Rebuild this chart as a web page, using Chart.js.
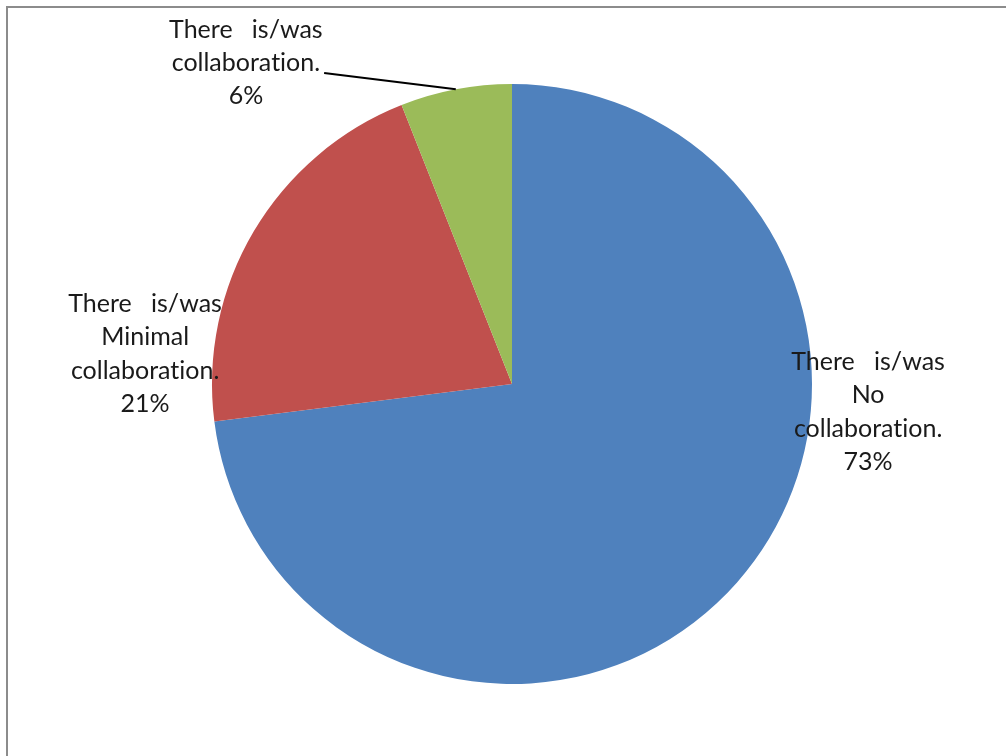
<!DOCTYPE html>
<html>
<head>
<meta charset="utf-8">
<script src="https://cdn.jsdelivr.net/npm/chart.js@4"></script>
<style>
  html, body { margin: 0; padding: 0; background: #fff; overflow: hidden; }
  #marco { position: absolute; left: 6px; top: 6px; width: 1100px; height: 900px;
           border-left: 2px solid #8c8c8c; border-top: 2px solid #8c8c8c; }
  #wrap { position: absolute; left: 0; top: 0; width: 1006px; height: 756px; }
</style>
</head>
<body>
<div id="marco"></div>
<div id="wrap"><canvas id="grafica" width="1006" height="756"></canvas></div>
<script>
// Datos del gráfico (\u200C evita la ligadura "ti" de Lato)
const categorias = [
  ['There   is/was', 'No', 'collaborat\u200Cion.'],
  ['There   is/was', 'Minimal', 'collaborat\u200Cion.'],
  ['There   is/was', 'collaborat\u200Cion.']
];
const porcentajes = [73, 21, 6];
const etiquetasPct = ['73%', '21%', '6%'];
const colores = ['#4F81BD', '#C0504D', '#9BBB59'];

// Posición de cada etiqueta, en radios, respecto al centro del pastel
const posEtiquetas = [
  { dx: 1.187, dy: 0.093 },
  { dx: -1.223, dy: -0.10 },
  { dx: -0.887, dy: -1.07, guia: true }
];

const ctx = document.getElementById('grafica').getContext('2d');

// Plugin para dibujar las etiquetas de datos
const pluginEtiquetas = {
  id: 'etiquetas',
  afterDatasetsDraw(chart) {
    const c = chart.ctx;
    const arcos = chart.getDatasetMeta(0).data;
    c.save();
    c.font = '25px Lato, Calibri, sans-serif';
    c.fillStyle = '#1a1a1a';
    c.textAlign = 'center';
    c.textBaseline = 'middle';
    const alto = 33.3;
    arcos.forEach((arco, i) => {
      const r = arco.outerRadius;
      const p = posEtiquetas[i];
      const lineas = categorias[i].concat([etiquetasPct[i]]);
      const cx = arco.x + p.dx * r;
      const cy = arco.y + p.dy * r;
      const y0 = cy - (lineas.length - 1) * alto / 2;
      lineas.forEach((t, j) => c.fillText(t, cx, y0 + j * alto));

      if (p.guia) {
        // Línea guía desde la etiqueta hasta el borde del sector
        const medio = (arco.startAngle + arco.endAngle) / 2;
        const ex = arco.x + Math.cos(medio) * r;
        const ey = arco.y + Math.sin(medio) * r;
        const anchoTxt = c.measureText(categorias[i][1]).width;
        c.beginPath();
        c.strokeStyle = '#000';
        c.lineWidth = 2;
        c.moveTo(cx + anchoTxt / 2 + 4, y0 + alto + 10);
        c.lineTo(ex, ey);
        c.stroke();
      }
    });
    c.restore();
  }
};

new Chart(ctx, {
  type: 'pie',
  data: {
    labels: categorias.map(l => l.join(' ')),
    datasets: [{
      data: porcentajes,
      backgroundColor: colores,
      borderWidth: 0
    }]
  },
  options: {
    responsive: false,
    animation: false,
    layout: { padding: { left: 100, right: 82, top: 84, bottom: 72 } },
    plugins: {
      legend: { display: false },
      tooltip: { enabled: false }
    }
  },
  plugins: [pluginEtiquetas]
});
</script>
</body>
</html>
